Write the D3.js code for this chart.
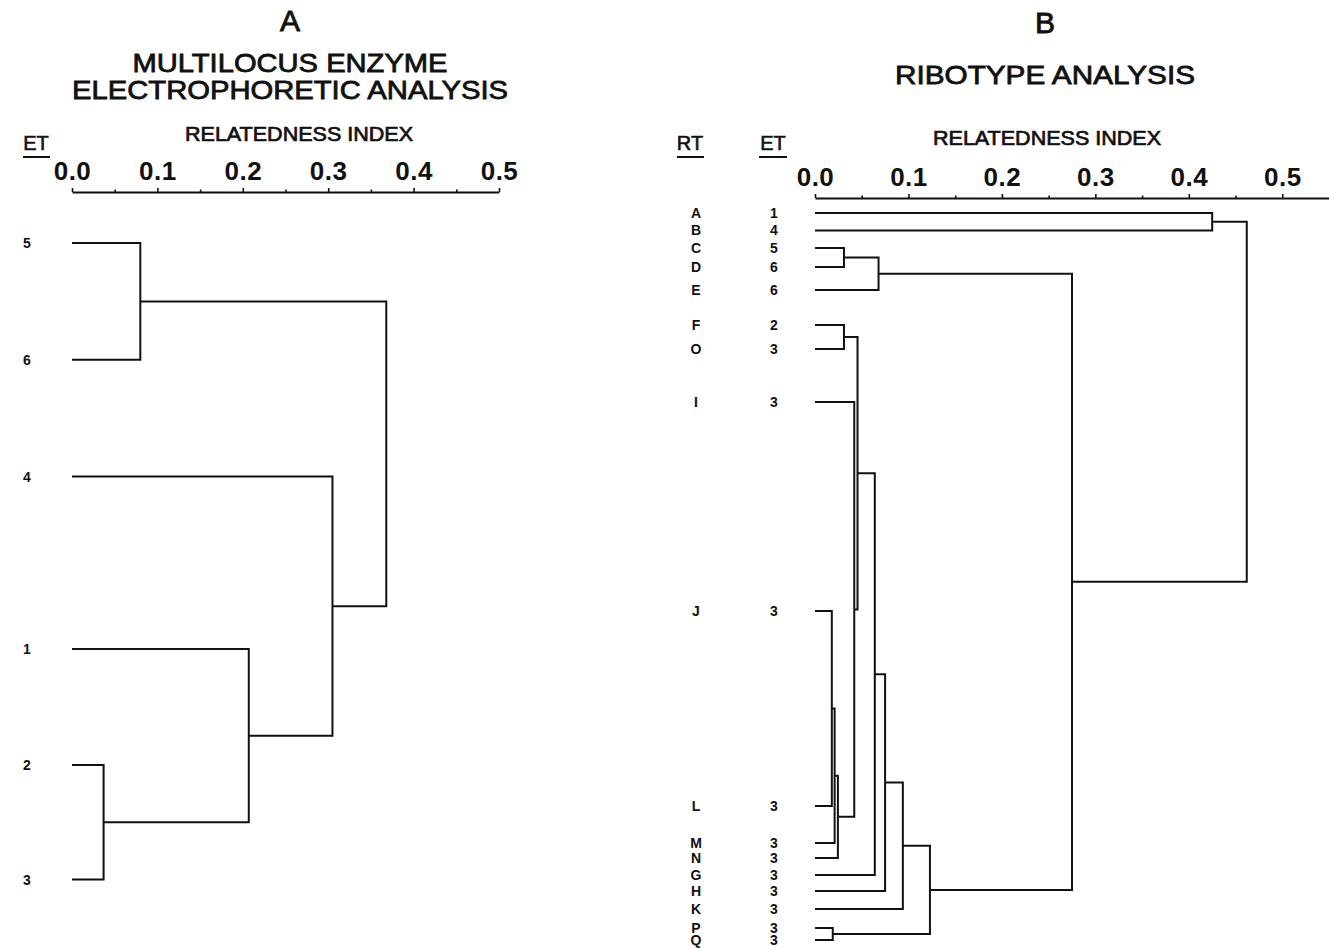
<!DOCTYPE html>
<html><head><meta charset="utf-8">
<script src="https://cdn.jsdelivr.net/npm/d3@7"></script>
<style>body{margin:0;background:#fff}svg{display:block}</style>
</head><body>
<svg id="c" width="1329" height="949"></svg>
<script>
// ---------- DATA ----------
// Panel A (MLEE): ET leaves, their row positions (in row units) and merges [id, childA, childB, relatedness]
const leavesA = ["5", "6", "4", "1", "2", "3"];
const rowsA = [0, 1, 2, 3.476, 4.47, 5.45];
const mergesA = [
  ["n56", "5", "6", 0.080],
  ["n23", "2", "3", 0.037],
  ["n123", "1", "n23", 0.207],
  ["n4123", "4", "n123", 0.305],
  ["rootA", "n56", "n4123", 0.368]
];

// Panel B (ribotype): RT leaves, ET per leaf, row positions (row units)
const rtB = ["A", "B", "C", "D", "E", "F", "O", "I", "J", "L", "M", "N", "G", "H", "K", "P", "Q"];
const etB = ["1", "4", "5", "6", "6", "2", "3", "3", "3", "3", "3", "3", "3", "3", "3", "3", "3"];
const rowsB = [0, 1, 2.01, 3.1, 4.43, 6.44, 7.82, 10.86, 22.87, 34.08, 36.2, 37.07, 38.05, 38.97, 40, 41.09, 41.78];
const mergesB = [
  ["AB", "A", "B", 0.425],
  ["CD", "C", "D", 0.031],
  ["CDE", "CD", "E", 0.068],
  ["FO", "F", "O", 0.031],
  ["JL", "J", "L", 0.018],
  ["JLM", "JL", "M", 0.021],
  ["JLMN", "JLM", "N", 0.0245],
  ["IJ", "I", "JLMN", 0.042],
  ["FI", "FO", "IJ", 0.0455],
  ["FG", "FI", "G", 0.064],
  ["FH", "FG", "H", 0.075],
  ["FK", "FH", "K", 0.094],
  ["PQ", "P", "Q", 0.019],
  ["FP", "FK", "PQ", 0.123],
  ["CF", "CDE", "FP", 0.275],
  ["rootB", "AB", "CF", 0.462]
];

const majorTicks = [0, 0.1, 0.2, 0.3, 0.4, 0.5];
const minorTicks = [0.05, 0.15, 0.25, 0.35, 0.45];

// ---------- DRAW ----------
const svg = d3.select("#c");
const FONT = "'Liberation Sans', Arial, Helvetica, sans-serif";
const INK = "#111";

function text(x, y, s, size, opts = {}) {
  const t = svg.append("text").attr("x", x).attr("y", y).text(s)
    .attr("font-family", FONT).attr("font-size", size)
    .attr("fill", INK).attr("text-anchor", opts.anchor || "middle")
    .attr("font-weight", opts.weight || "normal");
  if (opts.len) t.attr("textLength", opts.len).attr("lengthAdjust", "spacingAndGlyphs");
  if (opts.stroke) t.attr("stroke", INK).attr("stroke-width", opts.stroke);
  return t;
}

function drawAxis(x, yPos) {
  const g = svg.append("g").attr("transform", `translate(0,${yPos})`);
  g.call(d3.axisTop(x).tickValues(majorTicks).tickFormat(d3.format(".1f"))
      .tickSize(4).tickSizeOuter(0).tickPadding(8));
  g.select(".domain").attr("stroke", INK).attr("stroke-width", 1.8);
  g.selectAll(".tick line").attr("stroke", INK).attr("stroke-width", 1.6);
  g.selectAll(".tick text").attr("font-family", FONT).attr("font-size", 26)
    .attr("font-weight", "bold").attr("fill", INK).attr("letter-spacing", 0.5);
  const gm = svg.append("g").attr("transform", `translate(0,${yPos})`);
  gm.call(d3.axisTop(x).tickValues(minorTicks).tickFormat("").tickSize(2.5).tickSizeOuter(0));
  gm.select(".domain").remove();
  gm.selectAll(".tick line").attr("stroke", INK).attr("stroke-width", 1.6);
}

function drawTree(leaves, rows, merges, x, y) {
  const nodes = {};
  leaves.forEach((l, i) => { nodes[l] = { h: 0, y: y(rows[i]) }; });
  const g = svg.append("g").attr("fill", "none").attr("stroke", INK)
    .attr("stroke-width", 2).attr("stroke-linejoin", "miter");
  merges.forEach(([id, a, b, h]) => {
    const A = nodes[a], B = nodes[b];
    const p = d3.path();
    p.moveTo(x(A.h), A.y);
    p.lineTo(x(h), A.y);
    p.lineTo(x(h), B.y);
    p.lineTo(x(B.h), B.y);
    g.append("path").attr("d", p.toString());
    nodes[id] = { h: h, y: (A.y + B.y) / 2 };
  });
  return nodes;
}

// ---- Panel A ----
const xA = d3.scaleLinear().domain([0, 0.5]).range([72, 499]);
const yA = d3.scaleLinear().domain([0, 1]).range([243, 359.8]);

text(290, 31, "A", 30, { stroke: 0.9 });
text(290, 72, "MULTILOCUS ENZYME", 26, { len: 315, stroke: 0.8 });
text(290, 99, "ELECTROPHORETIC ANALYSIS", 26, { len: 436, stroke: 0.8 });
text(299, 141, "RELATEDNESS INDEX", 20, { len: 228, stroke: 0.7 });
text(36, 150, "ET", 20, { stroke: 0.6 });
svg.append("line").attr("x1", 23).attr("x2", 50).attr("y1", 157).attr("y2", 157)
  .attr("stroke", INK).attr("stroke-width", 2);

drawAxis(xA, 192);
drawTree(leavesA, rowsA, mergesA, xA, yA);
leavesA.forEach((l, i) => {
  text(27, yA(rowsA[i]) + 5, l, 14, { weight: "bold" });
});

// ---- Panel B ----
const xB = d3.scaleLinear().domain([0, 0.55]).range([815, 1329]);
const yB = d3.scaleLinear().domain([0, 1]).range([213, 230.4]);

text(1045, 33, "B", 30, { stroke: 0.9 });
text(1045, 84, "RIBOTYPE ANALYSIS", 26, { len: 300, stroke: 0.8 });
text(1047, 145, "RELATEDNESS INDEX", 20, { len: 228, stroke: 0.7 });
text(690, 150, "RT", 20, { stroke: 0.6 });
text(773, 150, "ET", 20, { stroke: 0.6 });
svg.append("line").attr("x1", 677).attr("x2", 704).attr("y1", 157).attr("y2", 157)
  .attr("stroke", INK).attr("stroke-width", 2);
svg.append("line").attr("x1", 759).attr("x2", 787).attr("y1", 157).attr("y2", 157)
  .attr("stroke", INK).attr("stroke-width", 2);

drawAxis(xB, 198);
drawTree(rtB, rowsB, mergesB, xB, yB);
rtB.forEach((l, i) => {
  const yy = yB(rowsB[i]) + 5;
  text(696, yy, l, 14, { weight: "bold" });
  text(774, yy, etB[i], 14, { weight: "bold" });
});
</script>
</body></html>
